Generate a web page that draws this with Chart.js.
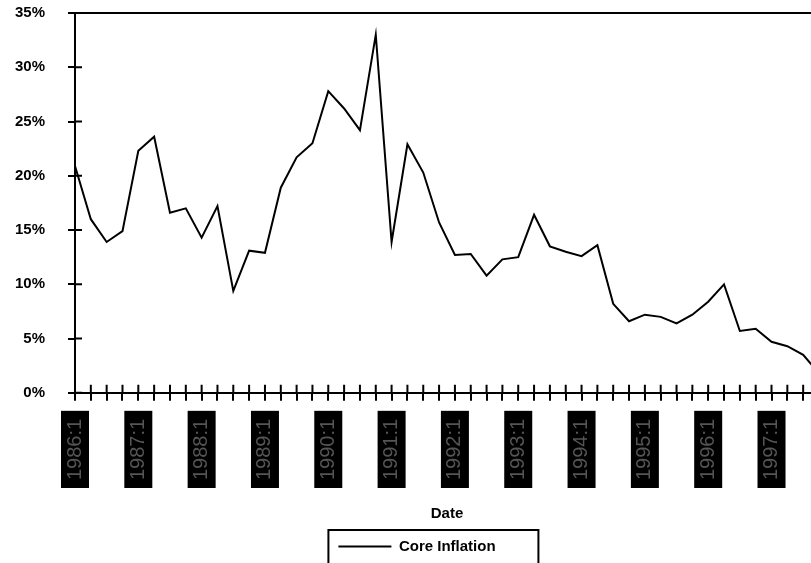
<!DOCTYPE html>
<html>
<head>
<meta charset="utf-8">
<script src="https://cdn.jsdelivr.net/npm/chart.js@4.4.1/dist/chart.umd.min.js"></script>
<style>
  html, body { margin: 0; padding: 0; overflow: hidden; background: #fff; }
  #wrap { width: 819px; height: 564px; }
</style>
</head>
<body>
<div id="wrap"><canvas id="grafico"></canvas></div>
<script>
// trimestres 1986:1 .. 1997:4
const ANOS = [1986, 1987, 1988, 1989, 1990, 1991, 1992, 1993, 1994, 1995, 1996, 1997];
const TRIMESTRES = [1, 2, 3, 4];
const ROTULOS = ANOS.flatMap(a => TRIMESTRES.map(q => `${a}:${q}`));

// inflação núcleo (%)
const CORE_INFLATION = [
  20.9, 16.0, 13.9, 14.9, 22.3, 23.6, 16.6, 17.0,
  14.3, 17.2, 9.4, 13.1, 12.9, 18.9, 21.7, 23.0,
  27.8, 26.2, 24.2, 33.0, 13.9, 22.9, 20.3, 15.7,
  12.7, 12.8, 10.8, 12.3, 12.5, 16.4, 13.5, 13.0,
  12.6, 13.6, 8.2, 6.6, 7.2, 7.0, 6.4, 7.2,
  8.4, 10.0, 5.7, 5.9, 4.7, 4.3, 3.5, 1.8,
];

const Y_MAX = 35;
const Y_PASSO = 5;

const FONTE = "'Liberation Sans', Arial, sans-serif";

// ticks cruzando o eixo + linha superior da moldura
const molduraPlugin = {
  id: "moldura",
  afterDraw(chart) {
    const { ctx, chartArea: a, scales } = chart;
    ctx.save();
    ctx.strokeStyle = "#000";
    ctx.lineWidth = 2;
    ctx.beginPath();
    ctx.moveTo(a.left, a.top);
    ctx.lineTo(a.right, a.top);
    scales.y.ticks.forEach((t, i) => {
      const y = scales.y.getPixelForTick(i);
      ctx.moveTo(a.left, y);
      ctx.lineTo(a.left + 7, y);
    });
    scales.x.ticks.forEach((t, i) => {
      const x = scales.x.getPixelForTick(i);
      ctx.moveTo(x, a.bottom);
      ctx.lineTo(x, a.bottom - 8);
    });
    ctx.stroke();

    // caixa da legenda (cortada embaixo, como no original)
    const hb = chart.legend.legendHitBoxes[0];
    if (hb) {
      ctx.strokeRect(hb.left - 10, hb.top - 9, 210, 60);
    }
    ctx.restore();
  },
};

new Chart(document.getElementById("grafico"), {
  type: "line",
  data: {
    labels: ROTULOS,
    datasets: [{
      label: "Core Inflation",
      data: CORE_INFLATION,
      borderColor: "#000",
      backgroundColor: "#000",
      borderWidth: 2,
      pointRadius: 0,
      tension: 0,
      fill: false,
    }],
  },
  options: {
    responsive: true,
    maintainAspectRatio: false,
    animation: false,
    layout: { padding: { left: 15, top: 13, right: 0, bottom: 0 } },
    plugins: {
      legend: {
        position: "bottom",
        labels: {
          color: "#000",
          font: { family: FONTE, size: 15, weight: "bold" },
          boxWidth: 53,
          boxHeight: 0,
          padding: 12,
        },
      },
      tooltip: { enabled: false },
    },
    scales: {
      x: {
        grid: { drawOnChartArea: false, color: "#000", lineWidth: 2, tickLength: 8 },
        border: { color: "#000", width: 2 },
        ticks: {
          autoSkip: false,
          minRotation: 90,
          maxRotation: 90,
          padding: 18,
          labelOffset: -13,
          color: "#555",
          font: { family: FONTE, size: 20, lineHeight: 1.3 },
          showLabelBackdrop: true,
          backdropPadding: { left: 8, right: 8, top: 1, bottom: 1 },
          backdropColor: c => (c.index % 4 === 0 ? "#000" : "rgba(0,0,0,0)"),
          callback: (v, i) => (i % 4 === 0 ? ROTULOS[i] : ""),
        },
        title: {
          display: true,
          text: "Date",
          color: "#000",
          font: { family: FONTE, size: 15, weight: "bold" },
          padding: { top: 7, bottom: 4 },
        },
        afterFit: s => { s.paddingLeft = 0; s.paddingRight = 0; },
      },
      y: {
        min: 0,
        max: Y_MAX,
        grid: { drawOnChartArea: false, color: "#000", lineWidth: 2, tickLength: 7 },
        border: { color: "#000", width: 2 },
        ticks: {
          stepSize: Y_PASSO,
          padding: 23,
          color: "#000",
          font: { family: FONTE, size: 15, weight: "bold" },
          callback: v => v + "%",
        },
        afterFit: s => { s.width = 60; s.paddingTop = 0; s.paddingBottom = 0; },
      },
    },
  },
  plugins: [molduraPlugin],
});
</script>
</body>
</html>
